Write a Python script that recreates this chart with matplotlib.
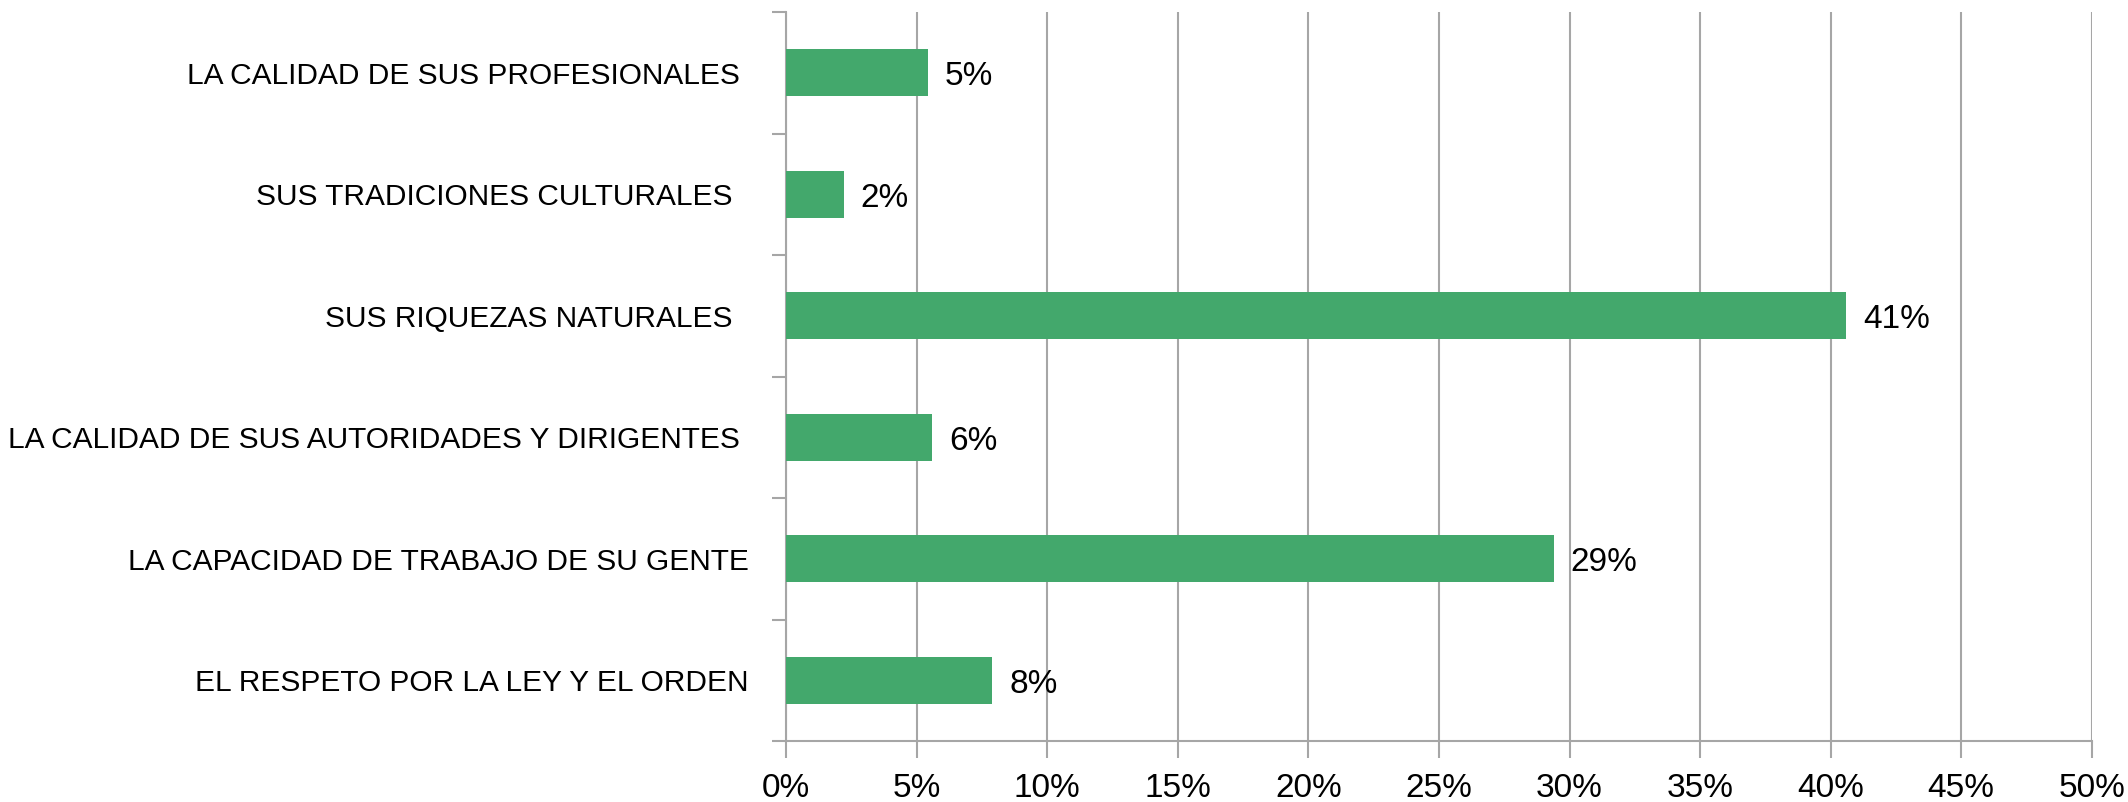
import matplotlib.pyplot as plt
import numpy as np

plt.rcParams['font.family'] = ['Liberation Sans', 'DejaVu Sans']

categories = ['LA CALIDAD DE SUS PROFESIONALES ',
              'SUS TRADICIONES CULTURALES  ',
              'SUS RIQUEZAS NATURALES  ',
              'LA CALIDAD DE SUS AUTORIDADES Y DIRIGENTES ',
              'LA CAPACIDAD DE TRABAJO DE SU GENTE',
              'EL RESPETO POR LA LEY Y EL ORDEN']
values = [5.45, 2.2, 40.6, 5.6, 29.4, 7.9]
xticks = [0, 5, 10, 15, 20, 25, 30, 35, 40, 45, 50]

grey = '#A6A6A6'
green = '#43A86C'

fig = plt.figure(figsize=(21.28, 8.02), dpi=100)
ax = fig.add_axes([0.3694, 0.076, 0.6136, 0.909])

y = np.arange(len(categories))
bars = ax.barh(y, values, height=0.39, color=green, zorder=3)
labels = ['%.0f%%' % v for v in values]
texts = ax.bar_label(bars, labels=labels, padding=12, fontsize=24)
for t in texts:
    t.set_va('center')
    t.xyann = (12, -3)

ax.set_ylim(len(categories) - 0.5, -0.5)
ax.set_xlim(0, 50)

ax.set_yticks(y)
ax.set_yticklabels(categories, fontsize=21.5)
ax.set_yticks(np.arange(len(categories) + 1) - 0.5, minor=True)
ax.tick_params(axis='y', which='major', length=0, pad=27)
ax.tick_params(axis='y', which='minor', length=10, width=1.5, color=grey)

ax.set_xticks(xticks)
ax.set_xticklabels(['%d%%' % t for t in xticks], fontsize=24)
ax.tick_params(axis='x', length=12, width=1.5, color=grey, pad=11)

ax.grid(axis='x', color=grey, linewidth=1.5, zorder=0)
for side in ['top', 'right']:
    ax.spines[side].set_visible(False)
for side in ['left', 'bottom']:
    ax.spines[side].set_color(grey)
    ax.spines[side].set_linewidth(1.5)

plt.savefig('out.png', dpi=100)
